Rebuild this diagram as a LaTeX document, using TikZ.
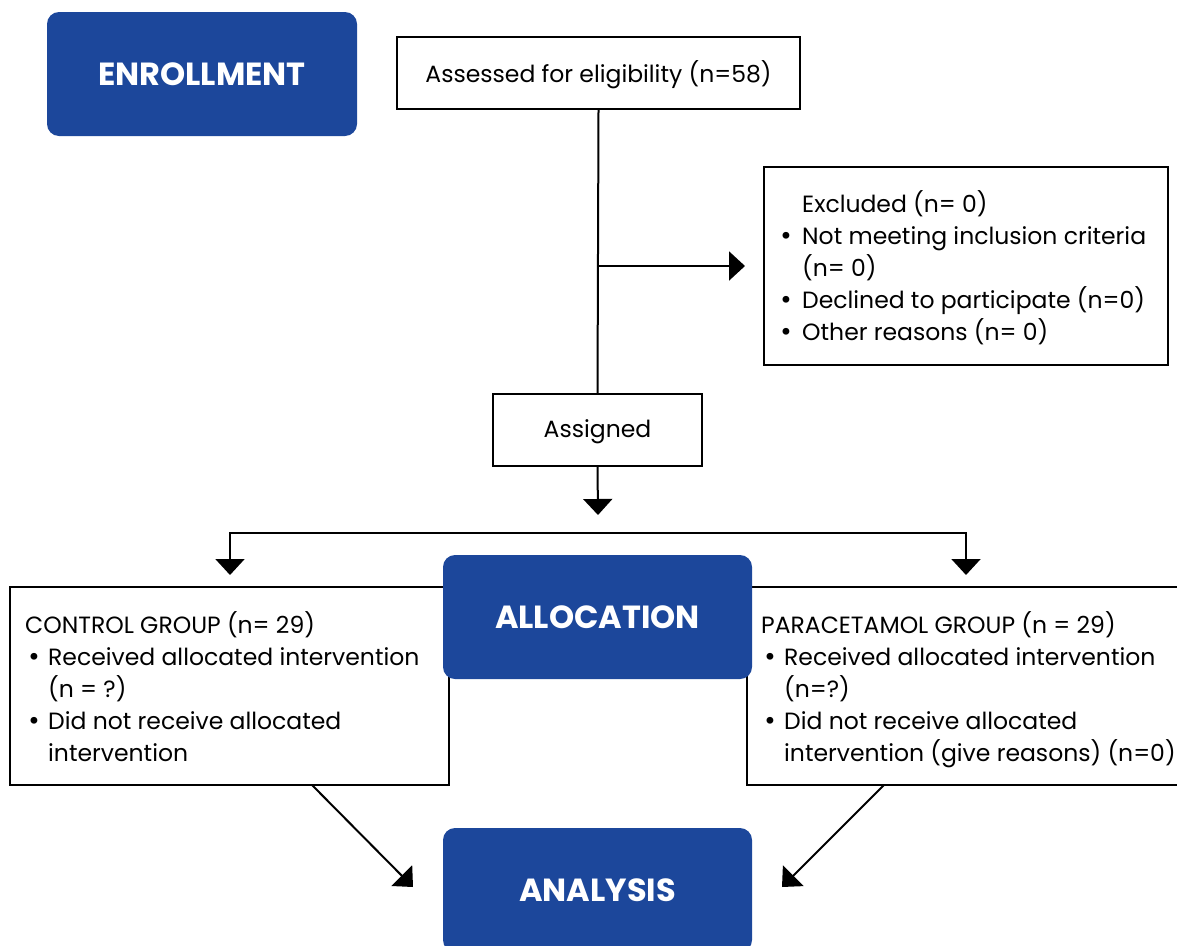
\documentclass[tikz,border=0pt]{standalone}
\usepackage{fontspec}
\setmainfont{Poppins}
\newfontfamily\dvfont{DejaVu Sans}
\usetikzlibrary{arrows.meta}
\definecolor{cblue}{RGB}{28,71,155}
\newcommand{\bul}{{\dvfont •}}
\begin{document}
\begin{tikzpicture}[x=1pt,y=-1pt,
  box/.style={draw=black,line width=2pt,fill=white,inner sep=0pt},
  bluebox/.style={fill=cblue,rounded corners=12pt,inner sep=0pt,minimum width=309pt,minimum height=124pt,text=white,font=\fontsize{32}{36}\selectfont\bfseries},
  conn/.style={line width=2pt},
  arr/.style={conn,-{Triangle[width=29pt,length=16pt]}},
  arrs/.style={conn,{Triangle[width=29pt,length=16pt]}-{Triangle[width=29pt,length=16pt]}},
  body/.style={font=\fontsize{23.5}{32}\selectfont,inner sep=0pt,align=left}
]
\useasboundingbox (0,0) rectangle (1177,945);

% boxes
\node[bluebox,minimum width=310pt] (enroll) at (202,74) {ENROLLMENT};
\node[box,minimum width=403pt,minimum height=72pt] (assess) at (598.5,73) {};
\node[body] (assessT) at (598.5,75) {Assessed for eligibility (n=58)};
\node[box,minimum width=404pt,minimum height=198pt] (excl) at (966,266) {};
\node[body,anchor=west] (exclT) at (779,270) {\begin{tabular}{@{}l@{}l@{}}
\makebox[23pt][l]{} & Excluded (n= 0)\\
\makebox[23pt][l]{\bul} & Not meeting inclusion criteria\\
 & (n= 0)\\
\makebox[23pt][l]{\bul} & Declined to participate (n=0)\\
\makebox[23pt][l]{\bul} & Other reasons (n= 0)
\end{tabular}};
\node[box,minimum width=209pt,minimum height=72pt] (assign) at (597.5,430) {};
\node[body] (assignT) at (597.5,432) {Assigned};

\node[box,minimum width=439pt,minimum height=198pt] (ctrl) at (229.5,686) {};
\node[body,anchor=west] (ctrlT) at (25,691) {\begin{tabular}{@{}l@{}l@{}}
\multicolumn{2}{@{}l@{}}{CONTROL GROUP (n= 29)}\\
\hspace{2pt}\makebox[21pt][l]{\bul} & Received allocated intervention\\
 & (n = ?)\\
\hspace{2pt}\makebox[21pt][l]{\bul} & Did not receive allocated\\
 & intervention
\end{tabular}};

\node[box,minimum width=439pt,minimum height=198pt] (para) at (966.5,686) {};
\node[body,anchor=west] (paraT) at (761,691) {\begin{tabular}{@{}l@{}l@{}}
\multicolumn{2}{@{}l@{}}{PARACETAMOL GROUP (n = 29)}\\
\hspace{2pt}\makebox[21pt][l]{\bul} & Received allocated intervention\\
 & (n=?)\\
\hspace{2pt}\makebox[21pt][l]{\bul} & Did not receive allocated\\
 & intervention (give reasons) (n=0)
\end{tabular}};

\node[bluebox] (alloc) at (597.5,617) {ALLOCATION};
\node[bluebox] (anal) at (597.5,890) {ANALYSIS};

% coordinates
\coordinate (j1) at (598,266);
\coordinate (exTip) at (745,266);
\coordinate (asTip) at (598,515);
\coordinate (hl) at (230,533);
\coordinate (hr) at (966,533);
\coordinate (cTip) at (230,575);
\coordinate (pTip) at (966,575);
\coordinate (cOut) at (312,785);
\coordinate (cIn) at (413,887);
\coordinate (pOut) at (884,785);
\coordinate (pIn) at (782,887);

% connectors
\draw[conn] (assess.south) -- (assign.north);
\draw[arr] (j1) -- (exTip);
\draw[arr] (assign.south) -- (asTip);
\draw[arrs] (cTip) -- (hl) -- (hr) -- (pTip);
\draw[arr] (cOut) -- (cIn);
\draw[arr] (pOut) -- (pIn);
\end{tikzpicture}
\end{document}
